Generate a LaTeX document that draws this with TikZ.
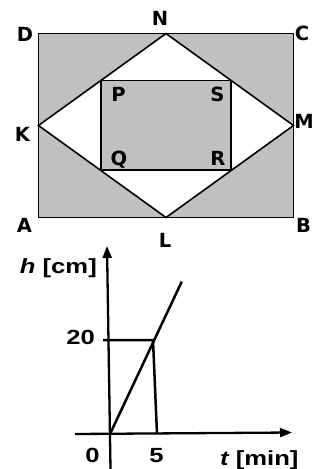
\documentclass[tikz,border=0pt]{standalone}
\usepackage{fontspec}
\usetikzlibrary{arrows.meta}
\newfontfamily\ptfont{DejaVu Sans}
\newfontfamily\grfont[FakeStretch=1.25]{Liberation Sans}
\definecolor{greyfill}{HTML}{C0C0C0}
\begin{document}
\begin{tikzpicture}[x=1pt,y=-1pt,
  ptlab/.style={font=\ptfont\bfseries\fontsize{19.5}{22}\selectfont, inner sep=0pt, text depth=0pt},
  grlab/.style={font=\grfont\bfseries\fontsize{20.5}{24}\selectfont, inner sep=0pt},
  edge/.style={line width=1.6pt, line join=miter},
  gline/.style={line width=2.5pt},
  axis/.style={line width=2.3pt,-{Triangle[length=12pt,width=9pt]}}]
\useasboundingbox (0,0) rectangle (323,469);
% outer rectangle
\coordinate (A) at (38.5,217.5);
\coordinate (B) at (293.5,217.5);
\coordinate (C) at (293.5,33.5);
\coordinate (D) at (38.5,33.5);
\coordinate (N) at (166,33.5);
\coordinate (L) at (166,217.5);
\coordinate (K) at (38.5,125.5);
\coordinate (M) at (293.5,125.5);
\coordinate (P) at (101,80.5);
\coordinate (S) at (231,80.5);
\coordinate (R) at (231,170);
\coordinate (Q) at (101,170);
\fill[fill=greyfill] (A) rectangle (C);
\fill[fill=white] (K) -- (L) -- (M) -- (N) -- cycle;
\fill[fill=greyfill] (P) rectangle (R);
\draw[edge] (A) -- (B) -- (C) -- (D) -- cycle;
\draw[edge] (K) -- (L) -- (M) -- (N) -- cycle;
\draw[edge] (P) -- (S) -- (R) -- (Q) -- cycle;
% labels
\node[ptlab] (lD) at (25,34) {D};
\node[ptlab] (lN) at (160,18.5) {N};
\node[ptlab] (lC) at (302,33) {C};
\node[ptlab] (lK) at (22.5,134) {K};
\node[ptlab] (lM) at (304,121) {M};
\node[ptlab] (lA) at (24.5,225) {A};
\node[ptlab] (lB) at (303.5,225) {B};
\node[ptlab] (lL) at (165,240) {L};
\node[ptlab] (lP) at (118.5,94) {P};
\node[ptlab] (lS) at (217.5,94) {S};
\node[ptlab] (lQ) at (119,158) {Q};
\node[ptlab] (lR) at (218,158) {R};
% graph
\coordinate (O) at (110,434);
\coordinate (Yb) at (110.5,469);
\coordinate (Yt) at (107,246);
\coordinate (Xl) at (75,434);
\coordinate (Xt) at (292,432.5);
\coordinate (T20) at (103,340);
\coordinate (H20) at (153,340);
\coordinate (F5) at (157,434);
\coordinate (E) at (181.7,281.7);
\draw[axis] (Yb) -- (Yt);
\draw[axis] (Xl) -- (Xt);
\draw[gline] (T20) -- (H20) -- (F5);
\draw[gline] (O) -- (E);
\node[grlab, anchor=base east] (lh) at (97,273) {\itshape h\upshape\ [cm]};
\node[grlab, anchor=base east] (l20) at (95,344) {20};
\node[grlab, anchor=base] (l0) at (92.5,462) {0};
\node[grlab, anchor=base] (l5) at (156.5,462) {5};
\node[grlab, anchor=base west] (lt) at (220,465) {\itshape t\upshape\ [min]};
\end{tikzpicture}
\end{document}
